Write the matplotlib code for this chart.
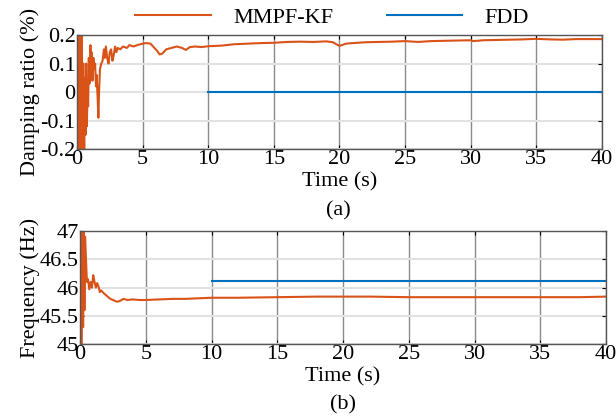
import matplotlib
matplotlib.use("Agg")
import matplotlib.pyplot as plt
import numpy as np

plt.rcParams['font.family'] = ['Liberation Serif', 'DejaVu Serif']
plt.rcParams['font.size'] = 16

ORANGE = '#D95319'
BLUE = '#0072BD'

# damping ratio, MMPF-KF
t_damp = [0.0, 0.05, 0.12, 0.2, 0.28, 0.35, 0.42, 0.48, 0.55, 0.6, 0.65, 0.7,
          0.75, 0.8, 0.85, 0.9, 0.95, 1.02, 1.08, 1.12, 1.18, 1.25, 1.3, 1.38,
          1.45, 1.5, 1.58, 1.63, 1.68, 1.75, 1.85, 1.95, 2.05, 2.12, 2.2, 2.3,
          2.4, 2.5, 2.6, 2.7, 2.8, 2.9, 3.0, 3.1, 3.3, 3.5, 3.8, 4.0, 4.3, 4.6,
          5.0, 5.3, 5.6, 5.9, 6.1, 6.3, 6.5, 6.8, 7.2, 7.6, 8.0, 8.3, 8.6, 9.0,
          9.5, 10, 11, 12, 13, 14, 15, 16, 17, 18, 19, 19.5, 20, 20.5, 21, 22,
          23, 24, 25, 26, 27, 28, 29, 30, 30.2, 31, 32, 33, 34, 35, 36, 37, 38,
          39, 40]
damp_kf = [0.3, 0.5, -0.6, 0.6, -0.5, 0.4, -0.3, 0.1, -0.25, 0.05, -0.15, 0.1,
           -0.12, 0.0, -0.05, 0.12, 0.03, 0.165, 0.1, 0.14, 0.04, 0.12, 0.08, 0.1,
           0.02, 0.06, -0.03, -0.09, 0.0, 0.08, 0.1, 0.11, 0.15, 0.12, 0.16, 0.12,
           0.1, 0.14, 0.15, 0.11, 0.13, 0.16, 0.14, 0.155, 0.15, 0.16, 0.155, 0.165,
           0.16, 0.165, 0.17, 0.172, 0.17, 0.155, 0.145, 0.132, 0.135, 0.15, 0.155,
           0.16, 0.155, 0.148, 0.158, 0.16, 0.158, 0.161, 0.163, 0.168, 0.17, 0.172,
           0.173, 0.176, 0.177, 0.176, 0.178, 0.175, 0.162, 0.17, 0.172, 0.175,
           0.176, 0.177, 0.179, 0.176, 0.179, 0.18, 0.181, 0.182, 0.179, 0.182,
           0.183, 0.184, 0.185, 0.187, 0.185, 0.184, 0.186, 0.186, 0.186]
t_fdd = [10, 40]
damp_fdd = [0.0, 0.0]

# frequency, MMPF-KF
t_freq = [0.0, 0.13, 0.18, 0.23, 0.28, 0.33, 0.38, 0.45, 0.52, 0.6, 0.7, 0.8,
          0.9, 1.0, 1.1, 1.2, 1.3, 1.4, 1.5, 1.6, 1.8, 2.0, 2.3, 2.6, 2.8, 3.0,
          3.3, 3.6, 4.0, 4.5, 5.0, 6.0, 7.0, 8.0, 10, 12, 15, 18, 20, 22, 25,
          28, 30, 33, 36, 38, 40]
freq_kf = [47.5, 45.0, 47.5, 45.3, 47.2, 45.6, 46.9, 46.5, 46.1, 46.15, 45.97,
           46.1, 46.0, 46.22, 46.1, 46.0, 46.08, 46.02, 45.92, 45.95, 45.9, 45.86,
           45.8, 45.77, 45.75, 45.76, 45.8, 45.78, 45.79, 45.78, 45.78, 45.79,
           45.8, 45.8, 45.82, 45.82, 45.83, 45.84, 45.84, 45.84, 45.83, 45.83,
           45.83, 45.83, 45.83, 45.83, 45.84]
freq_fdd = [46.12, 46.12]

fig = plt.figure(figsize=(6.16, 4.18), dpi=100)
ax1 = fig.add_axes([0.125, 0.6435, 0.852, 0.2725])
ax2 = fig.add_axes([0.130, 0.177, 0.854, 0.270])


def style(ax):
    ax.set_xlim(0, 40)
    ax.set_xticks(np.arange(0, 41, 5))
    ax.tick_params(direction='in', length=3, top=True, right=True, pad=1,
                   colors='black', labelsize=16)
    ax.grid(axis='x', color='#8a8a8a', linewidth=1)
    ax.grid(axis='y', color='#e2e2e2', linewidth=1.5)
    ax.set_axisbelow(True)
    for s in ax.spines.values():
        s.set_color('#555555')
        s.set_linewidth(1)
    ax.set_xlabel('Time (s)', labelpad=2)


l1, = ax1.plot(t_damp, damp_kf, color=ORANGE, lw=1.5, label='MMPF-KF')
l2, = ax1.plot(t_fdd, damp_fdd, color=BLUE, lw=1.5, label='FDD')
style(ax1)
ax1.set_ylim(-0.2, 0.2)
ax1.set_yticks([-0.2, -0.1, 0, 0.1, 0.2])
ax1.set_yticklabels(['-0.2', '-0.1', '0', '0.1', '0.2'])
ax1.set_ylabel('Damping ratio (%)', labelpad=0)

ax2.plot(t_freq, freq_kf, color=ORANGE, lw=1.5)
ax2.plot(t_fdd, freq_fdd, color=BLUE, lw=1.5)
style(ax2)
ax2.set_ylim(45, 47)
ax2.set_yticks([45, 45.5, 46, 46.5, 47])
ax2.set_yticklabels(['45', '45.5', '46', '46.5', '47'])
ax2.set_ylabel('Frequency (Hz)', labelpad=0)

fig.text(0.55, 1 - 211 / 418, '(a)', ha='center', va='center', fontsize=16)
fig.text(0.557, 1 - 405 / 418, '(b)', ha='center', va='center', fontsize=16)

fig.legend(handles=[l1, l2], loc='center', bbox_to_anchor=(0.539, 1 - 18 / 418),
           ncol=2, frameon=False, handlelength=3.4, handletextpad=1.0,
           columnspacing=2.4, fontsize=16)

fig.savefig('out.png', dpi=100)
